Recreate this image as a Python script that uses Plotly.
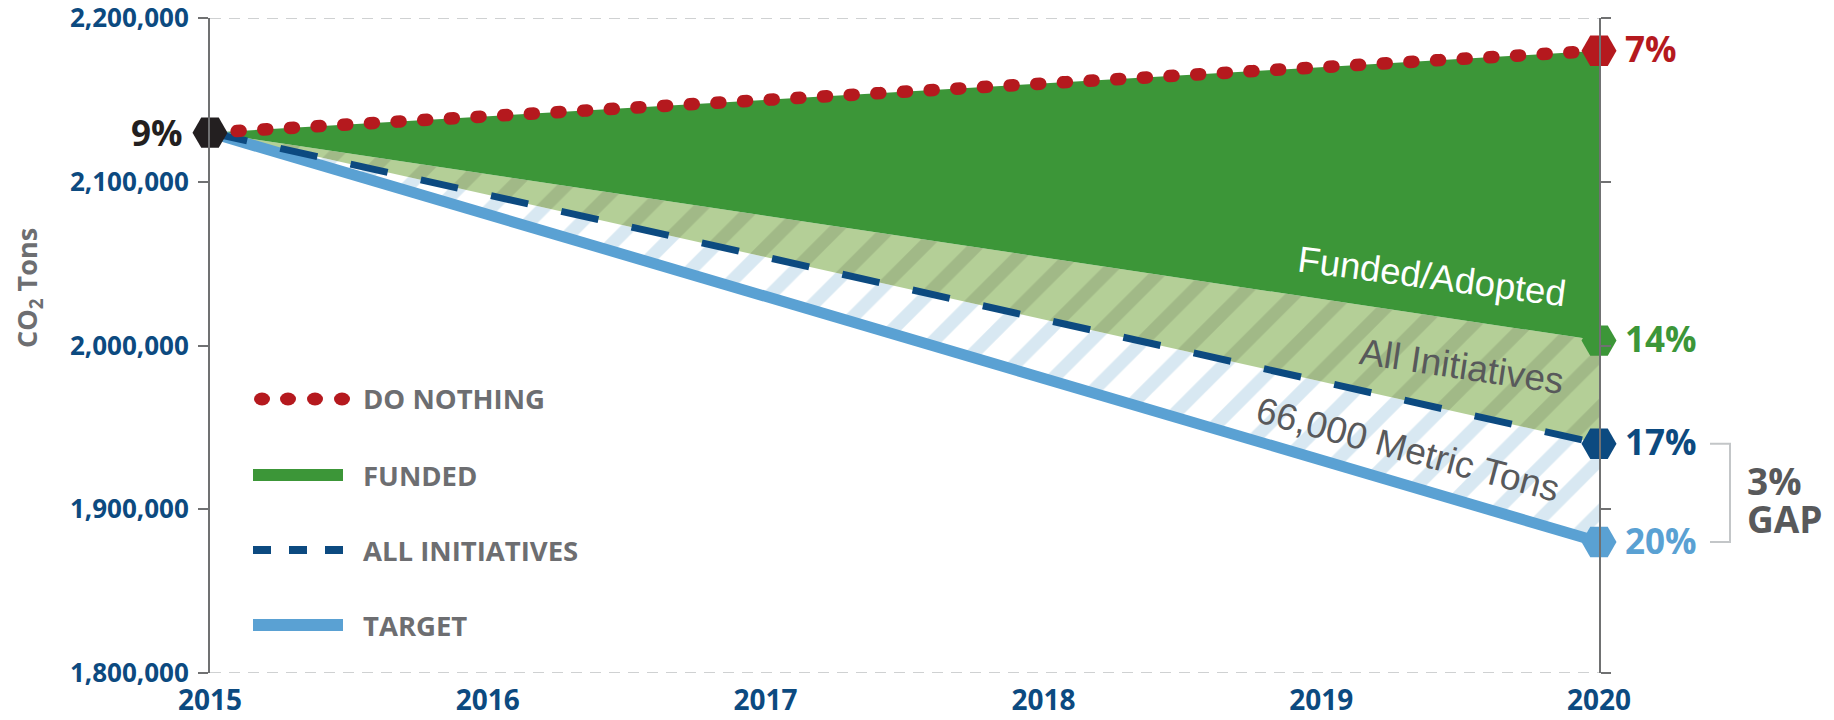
import plotly.graph_objects as go

# ---------------- data ----------------
years = [2015, 2020]
do_nothing = [2130000, 2180000]
funded = [2130000, 2003000]
all_initiatives = [2130000, 1940000]
target = [2130000, 1880000]

start_label = "9%"
end_labels = ["7%", "14%", "17%", "20%"]
y_ticks = [1800000, 1900000, 2000000, 2100000, 2200000]
x_ticks = [2015, 2016, 2017, 2018, 2019, 2020]
legend_names = ["DO NOTHING", "FUNDED", "ALL INITIATIVES", "TARGET"]
band_labels = ["Funded/Adopted", "All Initiatives", "66,000 Metric Tons"]
gap_labels = ["3%", "GAP"]

# ---------------- styles ----------------
W, H = 1834, 720
L, R, T, B = 210, 235, 18, 47
PW, PH = W - L - R, H - T - B

RED = "#b5191e"
GREEN = "#3c9638"
GREEN_LIGHT = "#b4cf97"
GREEN_STRIPE = "#a1b987"
BLUE_STRIPE = "#d8e8f2"
LIGHTBLUE = "#5aa1d3"
NAVY = "#0c4a80"
BLACK = "#231f20"
AXIS = "#707172"
GRID = "#cfd1d2"
LEG_TXT = "#6d6e71"
LBL_TXT = "#58595b"
BOLD = "Open Sans"
SANS = "Liberation Sans, Arial"


def px(X):
    return (X - L) / PW


def py(Y):
    return (H - B - Y) / PH


fig = go.Figure()

# band fills
fig.add_trace(go.Scatter(x=years, y=target, mode="lines", line=dict(width=0),
                         hoverinfo="skip", showlegend=False))
fig.add_trace(go.Scatter(x=years, y=all_initiatives, mode="lines", line=dict(width=0),
                         fill="tonexty",
                         fillpattern=dict(shape="/", bgcolor="white", fgcolor=BLUE_STRIPE,
                                          size=37, solidity=0.35, fillmode="replace"),
                         hoverinfo="skip", showlegend=False))
fig.add_trace(go.Scatter(x=years, y=funded, mode="lines", line=dict(width=0),
                         fill="tonexty",
                         fillpattern=dict(shape="/", bgcolor=GREEN_LIGHT, fgcolor=GREEN_STRIPE,
                                          size=37, solidity=0.35, fillmode="replace"),
                         hoverinfo="skip", showlegend=False))
fig.add_trace(go.Scatter(x=years, y=do_nothing, mode="lines", line=dict(width=0),
                         fill="tonexty", fillcolor=GREEN,
                         hoverinfo="skip", showlegend=False))

# lines
fig.add_trace(go.Scatter(x=years, y=target, mode="lines",
                         line=dict(color=LIGHTBLUE, width=11), showlegend=False))
fig.add_trace(go.Scatter(x=years, y=all_initiatives, mode="lines",
                         line=dict(color=NAVY, width=7, dash="38px,34px"), showlegend=False))
fig.add_trace(go.Scatter(x=years, y=do_nothing, mode="lines",
                         line=dict(color=RED, width=12.5, dash="4px,22.7px"), showlegend=False))

# end markers
fig.add_trace(go.Scatter(
    x=[years[0], years[-1], years[-1], years[-1], years[-1]],
    y=[do_nothing[0], do_nothing[-1], funded[-1], all_initiatives[-1], target[-1]],
    mode="markers", cliponaxis=False, showlegend=False,
    marker=dict(symbol="hexagon2", size=35, line=dict(width=0),
                color=[BLACK, RED, GREEN, NAVY, LIGHTBLUE])))

annotations = []
# percentage labels
annotations.append(dict(x=years[0], y=do_nothing[0], text=start_label, showarrow=False,
                        xanchor="right", yanchor="middle", xshift=-25,
                        font=dict(family=BOLD, size=35, color=BLACK, weight="bold")))
for val, lab, col in zip([do_nothing[-1], funded[-1], all_initiatives[-1], target[-1]],
                         end_labels, [RED, GREEN, NAVY, LIGHTBLUE]):
    annotations.append(dict(x=years[-1], y=val, text=lab, showarrow=False,
                            xanchor="left", yanchor="middle", xshift=24, yshift=2,
                            font=dict(family=BOLD, size=35, color=col, weight="bold")))

# band labels
band_pos = [(1432, 276, 7.5, "white", 36.5), (1462, 366, 8.4, LBL_TXT, 37),
            (1408, 449, 15, LBL_TXT, 37)]
for lab, (X, Y, ang, col, sz) in zip(band_labels, band_pos):
    annotations.append(dict(xref="paper", yref="paper", x=px(X), y=py(Y), text=lab,
                            showarrow=False, textangle=ang, xanchor="center", yanchor="middle",
                            font=dict(family=SANS, size=sz, color=col)))

# gap labels
for lab, Y in zip(gap_labels, [480, 518]):
    annotations.append(dict(xref="paper", yref="paper", x=px(1745), y=py(Y), text=lab,
                            showarrow=False, xanchor="left", yanchor="middle",
                            font=dict(family=BOLD, size=37, color=LBL_TXT, weight="bold")))

# y-axis title
annotations.append(dict(xref="paper", yref="paper", x=px(28), y=py(288),
                        text="CO<sub>2</sub> Tons", showarrow=False, textangle=-90,
                        xanchor="center", yanchor="middle",
                        font=dict(family=BOLD, size=27, color=LEG_TXT, weight="bold")))

# legend text
leg_y = [399, 475, 550, 625]
for lab, Y in zip(legend_names, leg_y):
    annotations.append(dict(xref="paper", yref="paper", x=px(361), y=py(Y), text=lab,
                            showarrow=False, xanchor="left", yanchor="middle",
                            font=dict(family=BOLD, size=27.5, color=LEG_TXT, weight="bold")))

shapes = []
# dashed top / bottom grid lines
for v in [y_ticks[0], y_ticks[-1]]:
    shapes.append(dict(type="line", xref="paper", yref="y", x0=0, x1=1, y0=v, y1=v,
                       line=dict(color=GRID, width=2, dash="11px,8px"), layer="below"))
# bracket
x0b, x1b = px(1710), px(1730)
shapes.append(dict(type="path", xref="paper", yref="y",
                   path=f"M {x0b},{all_initiatives[-1]} L {x1b},{all_initiatives[-1]} "
                        f"L {x1b},{target[-1]} L {x0b},{target[-1]}",
                   line=dict(color="#c3c6c8", width=2)))
# legend glyphs
for cx in [262, 288, 315, 342]:
    shapes.append(dict(type="circle", xref="paper", yref="paper",
                       x0=px(cx - 8), x1=px(cx + 8), y0=py(leg_y[0] + 6.5), y1=py(leg_y[0] - 6.5),
                       fillcolor=RED, line=dict(width=0)))
shapes.append(dict(type="line", xref="paper", yref="paper", x0=px(253), x1=px(343),
                   y0=py(leg_y[1]), y1=py(leg_y[1]), line=dict(color=GREEN, width=12)))
shapes.append(dict(type="line", xref="paper", yref="paper", x0=px(253), x1=px(343),
                   y0=py(leg_y[2]), y1=py(leg_y[2]), line=dict(color=NAVY, width=8, dash="18px,18px")))
shapes.append(dict(type="line", xref="paper", yref="paper", x0=px(253), x1=px(343),
                   y0=py(leg_y[3]), y1=py(leg_y[3]), line=dict(color=LIGHTBLUE, width=12)))

fig.update_layout(
    width=W, height=H, margin=dict(l=L, r=R, t=T, b=B, autoexpand=False),
    paper_bgcolor="white", plot_bgcolor="white",
    showlegend=False,
    xaxis=dict(range=[years[0], years[-1]], tickvals=x_ticks, ticktext=[str(v) for v in x_ticks],
               showgrid=False, zeroline=False, showline=False, ticks="", automargin=False,
               ticklabelstandoff=8, ticklabeloverflow="allow",
               tickfont=dict(family=BOLD, size=28, color=NAVY, weight="bold")),
    yaxis=dict(range=[y_ticks[0], y_ticks[-1]], tickvals=y_ticks, tickformat=",d",
               ticks="outside", ticklen=10, tickwidth=2, tickcolor=AXIS,
               showline=True, linecolor=AXIS, linewidth=2, mirror="ticks", automargin=False,
               showgrid=False, zeroline=False, ticklabelstandoff=4, ticklabeloverflow="allow",
               tickfont=dict(family=BOLD, size=26, color=NAVY, weight="bold")),
    annotations=annotations, shapes=shapes,
)

post = (
    "document.body.style.margin='0';"
    "var gd=document.getElementById('{plot_id}');"
    "var tr=gd.querySelectorAll('.scatterlayer .trace');"
    "if(tr.length>6){var p=tr[6].querySelector('path.js-line');"
    "if(p){p.style.strokeLinecap='round';}}"
)
fig.write_html("out.html", config={"displayModeBar": False}, post_script=post)
